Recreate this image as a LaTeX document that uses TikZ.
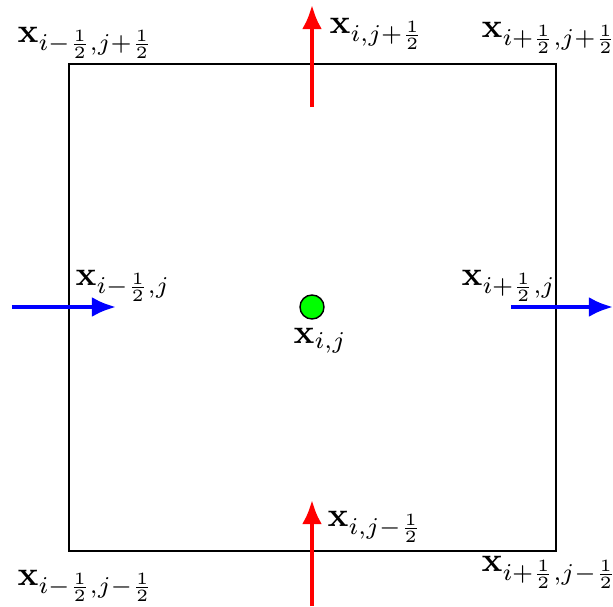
\documentclass[tikz,border=0pt]{standalone}
\usetikzlibrary{arrows.meta}
\newcommand{\lb}[1]{\scalebox{1.075}{$#1$}}
\begin{document}
\begin{tikzpicture}[x=0.3125pt,y=-0.3125pt,
  lbl/.style={anchor=base west,inner sep=0pt},
  redarr/.style={draw=red,line width=1.25pt,-{Latex[length=7.5pt,width=6.2pt]}},
  bluearr/.style={draw=blue,line width=1.25pt,-{Latex[length=7.5pt,width=6.2pt]}}]
\useasboundingbox (0,0) rectangle (613,607);
\draw[line width=0.45pt] (69,64) rectangle (556,551);
\node[circle,draw=black,fill=green,line width=0.45pt,minimum size=24*0.3125pt,inner sep=0pt] (c) at (312,307) {};
% arrows
\coordinate (t0) at (312,107); \coordinate (t1) at (312,5);
\coordinate (b0) at (312,606); \coordinate (b1) at (312,500);
\coordinate (l0) at (12,307); \coordinate (l1) at (116,307);
\coordinate (r0) at (511,307); \coordinate (r1) at (613,307);
\draw[redarr] (t0) -- (t1);
\draw[redarr] (b0) -- (b1);
\draw[bluearr] (l0) -- (l1);
\draw[bluearr] (r0) -- (r1);
% labels
\node[lbl] (tl) at (17,42) {\lb{\mathbf{x}_{i-\frac{1}{2},j+\frac{1}{2}}}};
\node[lbl] (tm) at (329,33) {\lb{\mathbf{x}_{i,j+\frac{1}{2}}}};
\node[lbl] (tr) at (481,37) {\lb{\mathbf{x}_{i+\frac{1}{2},j+\frac{1}{2}}}};
\node[lbl] (ml) at (75,285) {\lb{\mathbf{x}_{i-\frac{1}{2},j}}};
\node[lbl] (mr) at (461,285) {\lb{\mathbf{x}_{i+\frac{1}{2},j}}};
\node[lbl] (cc) at (293,343) {\lb{\mathbf{x}_{i,j}}};
\node[lbl] (bl) at (17,585) {\lb{\mathbf{x}_{i-\frac{1}{2},j-\frac{1}{2}}}};
\node[lbl] (bm) at (327,526) {\lb{\mathbf{x}_{i,j-\frac{1}{2}}}};
\node[lbl] (br) at (481,572) {\lb{\mathbf{x}_{i+\frac{1}{2},j-\frac{1}{2}}}};
\end{tikzpicture}
\end{document}
